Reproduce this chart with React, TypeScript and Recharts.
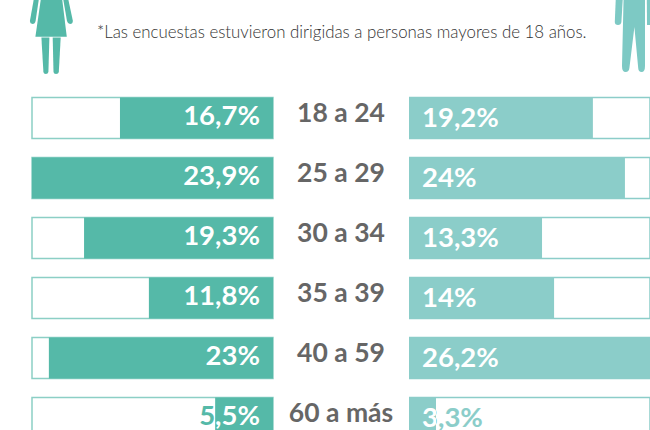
import { BarChart, Bar, XAxis, YAxis, LabelList } from "recharts"

const ageGroups = ["18 a 24", "25 a 29", "30 a 34", "35 a 39", "40 a 59", "60 a más"]

// filled part of each track, as drawn in the picture (% of the track width)
const womenFill = [63.5, 100, 78.4, 51.5, 93, 24]
const menFill = [76.3, 89.6, 55.2, 60.2, 100, 11.2]

// printed figures, they do not follow the bar lengths exactly
const womenLabels = ["16,7%", "23,9%", "19,3%", "11,8%", "23%", "5,5%"]
const menLabels = ["19,2%", "24%", "13,3%", "14%", "26,2%", "3,3%"]

const note = "*Las encuestas estuvieron dirigidas a personas mayores de 18 años."

const womenData = ageGroups.map((age, i) => ({ age, value: womenFill[i], label: womenLabels[i] }))
const menData = ageGroups.map((age, i) => ({ age, value: menFill[i], label: menLabels[i] }))

const WOMEN_COLOR = "#55b9a8"
const MEN_COLOR = "#8bcdc9"
const FONT = "Lato, sans-serif"

// label is white over the bar and coloured where it runs onto the empty track
function BarLabel(props: any) {
  const { x, y, width, height, value, index, side, color } = props
  const left = Math.min(x, x + width)
  const right = Math.max(x, x + width)
  const edge = side === "women" ? left : right
  const id = `${side}-label-${index}`
  const inner = side === "women" ? color : "#fff"
  const outer = side === "women" ? "#fff" : color
  return (
    <g>
      <defs>
        <linearGradient id={id} gradientUnits="userSpaceOnUse" x1={edge} x2={edge + 0.01} y1={0} y2={0}>
          <stop offset="0" stopColor={inner} />
          <stop offset="1" stopColor={outer} />
        </linearGradient>
      </defs>
      <text
        x={side === "women" ? 260 : 13}
        y={y + height / 2 + (side === "women" ? 6.5 : 8.5)}
        textAnchor={side === "women" ? "end" : "start"}
        fontFamily={FONT}
        fontWeight={700}
        fontSize={27.5}
        fill={`url(#${id})`}
      >
        {value}
      </text>
    </g>
  )
}

function AgeTick(props: any) {
  const { y, payload } = props
  return (
    <text x={341} y={y + 4} textAnchor="middle" fontFamily={FONT} fontWeight={700} fontSize={26.5} fill="#666666">
      {payload.value}
    </text>
  )
}

function Woman() {
  return (
    <svg width={50} height={80} viewBox="25 0 50 80" style={{ position: "absolute", left: 25, top: 0 }}>
      <g fill={WOMEN_COLOR}>
        <path d="M34 -2 L39 -2 L35.6 21 Q35 24 32.6 24 Q29.6 23.6 30 20.5 Z" />
        <path d="M63 -2 L68 -2 L72.8 20.5 Q73 23.6 70 24 Q67.8 24 67 21 Z" />
        <path d="M41 -2 L62 -2 L66.8 36.7 L35.4 36.7 Z" />
        <path d="M41.4 37.5 L49.4 37.5 L48.4 72 Q48 74 45.8 74 Q43.6 74 43.4 72 Z" />
        <path d="M52.7 37.5 L60.7 37.5 L58.8 72 Q58.5 74 56 74 Q53.7 74 53.5 72 Z" />
      </g>
    </svg>
  )
}

function Man() {
  return (
    <svg width={50} height={80} viewBox="600 0 50 80" style={{ position: "absolute", left: 600, top: 0 }}>
      <g fill="#7dc9c4">
        <path d="M615.8 -2 L622.8 -2 L621.4 22 Q621 25 618 25 Q614.8 25 614.8 22 Z" />
        <path d="M623.6 -2 L645 -2 L645 66 Q645 72 641.6 72 Q638.4 72 638.2 68 L634.4 27 L629.4 68 Q629 72 625.6 72 Q622 72 622 66 Z" />
        <path d="M646.8 -2 L654 -2 L654 25 L647 25 Z" />
      </g>
    </svg>
  )
}

export default function App() {
  return (
    <div style={{ position: "fixed", left: 0, top: 0, width: 650, height: 430, overflow: "hidden", background: "#fff" }}>
      <Woman />
      <Man />
      <div
        style={{
          position: "absolute",
          left: 97,
          top: 21,
          fontFamily: FONT,
          fontWeight: 300,
          fontSize: 16.85,
          color: "#333333",
          whiteSpace: "nowrap",
        }}
      >
        {note}
      </div>

      <div style={{ position: "absolute", left: 0, top: 0 }}>
        <BarChart
          width={409}
          height={448}
          data={womenData}
          layout="vertical"
          barSize={41}
          margin={{ top: 87.5, right: 0, bottom: 0.5, left: 32 }}
        >
          <XAxis type="number" domain={[0, 100]} reversed hide />
          <YAxis type="category" dataKey="age" orientation="right" width={136} axisLine={false} tickLine={false} tick={<AgeTick />} />
          <Bar
            dataKey="value"
            fill={WOMEN_COLOR}
            isAnimationActive={false}
            background={{ fill: "#ffffff", stroke: "#8ccfc5", strokeWidth: 1.5 }}
          >
            <LabelList dataKey="label" content={<BarLabel side="women" color={WOMEN_COLOR} />} />
          </Bar>
        </BarChart>
      </div>

      <div style={{ position: "absolute", left: 409, top: 0 }}>
        <BarChart
          width={241}
          height={448}
          data={menData}
          layout="vertical"
          barSize={41}
          margin={{ top: 87.5, right: 0, bottom: 0.5, left: 0 }}
        >
          <XAxis type="number" domain={[0, 100]} hide />
          <YAxis type="category" dataKey="age" hide />
          <Bar
            dataKey="value"
            fill={MEN_COLOR}
            isAnimationActive={false}
            background={{ fill: "#ffffff", stroke: "#8ccdc9", strokeWidth: 1.5 }}
          >
            <LabelList dataKey="label" content={<BarLabel side="men" color={MEN_COLOR} />} />
          </Bar>
        </BarChart>
      </div>
    </div>
  )
}
